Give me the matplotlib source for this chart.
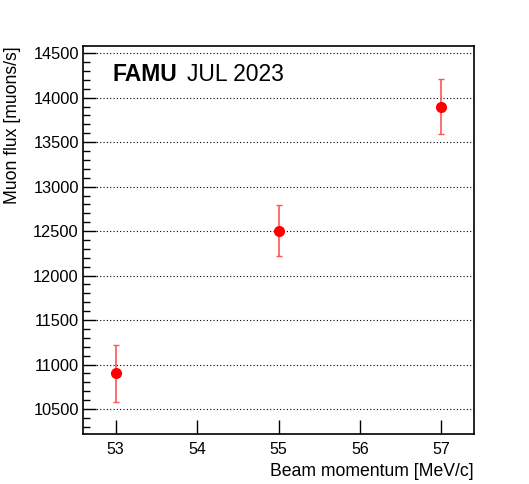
import matplotlib.pyplot as plt
from matplotlib.ticker import MultipleLocator

plt.rcParams['font.family'] = ['Liberation Sans', 'DejaVu Sans']

# beam momentum [MeV/c] vs muon flux [muons/s]
momentum = [53, 55, 57]
flux = [10900, 12505, 13900]
flux_err = [320, 290, 310]

fig = plt.figure(figsize=(5.29, 4.84), dpi=100)
ax = fig.add_axes([83 / 529, 1 - 434 / 484, (474 - 83) / 529, (434 - 46) / 484])

ax.errorbar(momentum, flux, yerr=flux_err, fmt='none', ecolor='#ff5555',
            elinewidth=1.2, capsize=2, capthick=1)
ax.plot(momentum, flux, 'o', color='red', markersize=7)

ax.set_xlim(52.6, 57.4)
ax.set_ylim(10220, 14580)
ax.xaxis.set_major_locator(MultipleLocator(1))
ax.yaxis.set_major_locator(MultipleLocator(500))
ax.yaxis.set_minor_locator(MultipleLocator(100))

ax.grid(axis='y', which='major', linestyle=(0, (1, 2)), color='black', linewidth=0.8)
ax.tick_params(axis='x', which='major', direction='in', length=10, width=1,
               labelsize=11.5, pad=6, top=False)
ax.tick_params(axis='y', which='major', direction='in', length=9, width=1,
               labelsize=11.8, pad=3, right=False)
ax.tick_params(axis='y', which='minor', direction='in', length=5, width=1, right=False)
for s in ax.spines.values():
    s.set_linewidth(1.2)

ax.set_xlabel('Beam momentum [MeV/c]', fontsize=12.7, loc='right', labelpad=4)
ax.set_ylabel('Muon flux [muons/s]', fontsize=12.7, loc='top', labelpad=9)

ax.text(0.075, 0.955, 'FAMU', transform=ax.transAxes, fontsize=16.5,
        fontweight='bold', va='top', ha='left')
ax.text(0.266, 0.955, 'JUL 2023', transform=ax.transAxes, fontsize=16.5,
        va='top', ha='left')

fig.savefig('out.png', dpi=100)
